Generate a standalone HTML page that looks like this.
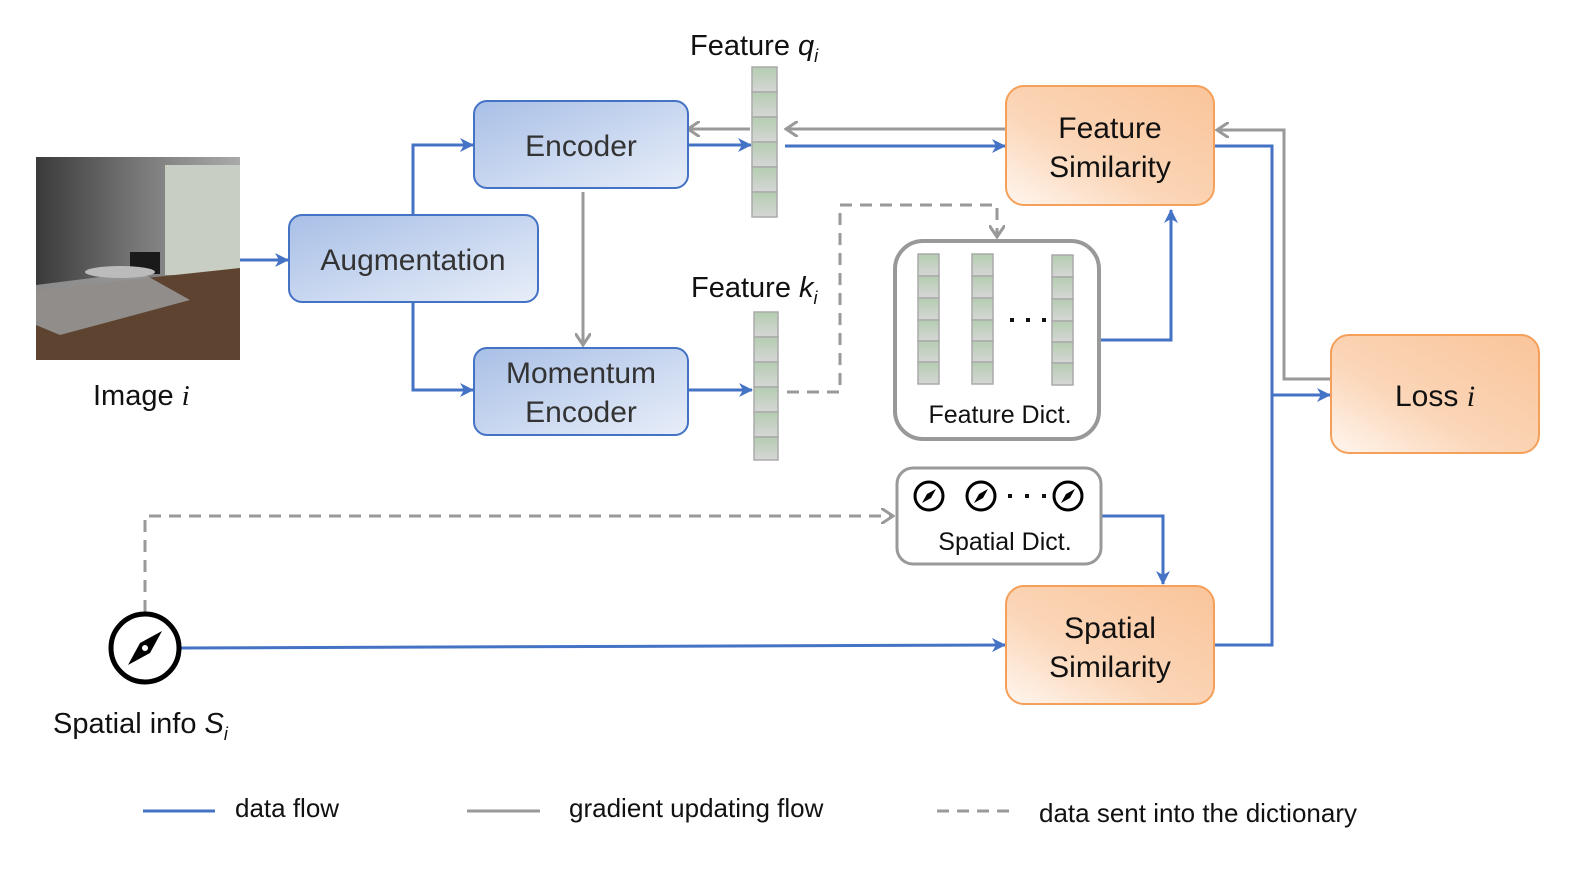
<!DOCTYPE html>
<html><head><meta charset="utf-8"><style>html,body{margin:0;background:#fff;overflow:hidden}svg{display:block}text{font-family:"Liberation Sans",sans-serif;fill:#111}</style></head><body>
<svg width="1578" height="870" viewBox="0 0 1578 870" xmlns="http://www.w3.org/2000/svg">
<defs>
<linearGradient id="bl" x1="0" y1="0" x2="1" y2="1"><stop offset="0" stop-color="#a8bfe6"/><stop offset="1" stop-color="#e8eef9"/></linearGradient>
<linearGradient id="or" x1="1" y1="0" x2="0" y2="1"><stop offset="0" stop-color="#f9c49a"/><stop offset="0.6" stop-color="#fbd6b8"/><stop offset="1" stop-color="#fff6ef"/></linearGradient>
<linearGradient id="cell" x1="0" y1="0" x2="0" y2="1"><stop offset="0" stop-color="#b4cdb0"/><stop offset="1" stop-color="#d6d6d6"/></linearGradient>
<linearGradient id="wall" x1="0" y1="0" x2="1" y2="0"><stop offset="0" stop-color="#3a3a3a"/><stop offset="0.5" stop-color="#777"/><stop offset="1" stop-color="#aaa"/></linearGradient>
<marker id="ab" markerWidth="14" markerHeight="14" refX="13" refY="7" orient="auto" markerUnits="userSpaceOnUse"><path d="M0,0 L14,7 L0,14 L4,7z" fill="#4472c4"/></marker>
<marker id="ag" markerWidth="14" markerHeight="16" refX="12" refY="8" orient="auto" markerUnits="userSpaceOnUse"><path d="M0,0 L12,8 L0,16" fill="none" stroke="#999" stroke-width="3"/></marker>
<g id="comp"><circle r="14" fill="#fff" stroke="#000" stroke-width="3"/><path d="M7,-7 L2,2 L-7,7 L-2,-2z" fill="#000"/></g>
</defs>
<!-- image -->
<rect x="36" y="157" width="204" height="203" fill="url(#wall)"/>
<rect x="165" y="165" width="75" height="110" fill="#c9cec4"/>
<polygon points="36,290 240,268 240,360 36,360" fill="#5e4430"/>
<polygon points="36,285 140,272 190,300 60,335 36,325" fill="#9a9a9a" opacity="0.85"/>
<rect x="130" y="252" width="30" height="22" fill="#1a1a1a"/>
<ellipse cx="120" cy="272" rx="35" ry="6" fill="#bbb"/>
<text x="93" y="405" font-size="29">Image <tspan font-style="italic" font-family="Liberation Serif">i</tspan></text>
<!-- connectors -->
<g fill="none" stroke="#4472c4" stroke-width="3">
<line x1="240" y1="260" x2="288" y2="260" marker-end="url(#ab)"/>
<polyline points="413,215 413,145 473,145" marker-end="url(#ab)"/>
<polyline points="413,302 413,390 473,390" marker-end="url(#ab)"/>
<line x1="688" y1="145" x2="751" y2="145" marker-end="url(#ab)"/>
<line x1="785" y1="146" x2="1005" y2="146" marker-end="url(#ab)"/>
<line x1="688" y1="390" x2="752" y2="390" marker-end="url(#ab)"/>
<polyline points="1100,340 1171,340 1171,210" marker-end="url(#ab)"/>
<polyline points="1214,146 1272,146 1272,645 1214,645"/>
<line x1="1272" y1="395" x2="1330" y2="395" marker-end="url(#ab)"/>
<polyline points="1102,516 1163,516 1163,584" marker-end="url(#ab)"/>
<line x1="180" y1="648" x2="1005" y2="645" marker-end="url(#ab)"/>
</g>
<g fill="none" stroke="#999" stroke-width="3">
<line x1="750" y1="129" x2="688" y2="129" marker-end="url(#ag)"/>
<line x1="1006" y1="129" x2="786" y2="129" marker-end="url(#ag)"/>
<line x1="583" y1="192" x2="583" y2="345" marker-end="url(#ag)"/>
<polyline points="1331,379 1284,379 1284,130 1217,130" marker-end="url(#ag)"/>
<g stroke-dasharray="12,8"><polyline points="787,392 840,392 840,205 997,205 997,237" marker-end="url(#ag)"/>
<polyline points="145,612 145,516 893,516" marker-end="url(#ag)"/></g>
</g>
<!-- boxes -->
<g stroke="#4472c4" stroke-width="2" fill="url(#bl)">
<rect x="289" y="215" width="249" height="87" rx="13"/>
<rect x="474" y="101" width="214" height="87" rx="13"/>
<rect x="474" y="348" width="214" height="87" rx="13"/>
</g>
<g font-size="30" text-anchor="middle">
<text x="413" y="270" style="fill:#333">Augmentation</text>
<text x="581" y="156" style="fill:#333">Encoder</text>
<text x="581" y="383" style="fill:#333">Momentum</text>
<text x="581" y="422" style="fill:#333">Encoder</text>
</g>
<g stroke="#f5a05a" stroke-width="2" fill="url(#or)">
<rect x="1006" y="86" width="208" height="119" rx="18"/>
<rect x="1006" y="586" width="208" height="118" rx="18"/>
<rect x="1331" y="335" width="208" height="118" rx="18"/>
</g>
<g font-size="30" text-anchor="middle">
<text x="1110" y="138">Feature</text><text x="1110" y="177">Similarity</text>
<text x="1110" y="638">Spatial</text><text x="1110" y="677">Similarity</text>
<text x="1435" y="406">Loss <tspan font-style="italic" font-family="Liberation Serif">i</tspan></text>
</g>
<!-- vectors -->
<g fill="url(#cell)" stroke="#aaa" stroke-width="1.5">
<rect x="752" y="67" width="25" height="25"/><rect x="752" y="92" width="25" height="25"/><rect x="752" y="117" width="25" height="25"/><rect x="752" y="142" width="25" height="25"/><rect x="752" y="167" width="25" height="25"/><rect x="752" y="192" width="25" height="25"/>
<rect x="754" y="312" width="24" height="25"/><rect x="754" y="337" width="24" height="25"/><rect x="754" y="362" width="24" height="25"/><rect x="754" y="387" width="24" height="25"/><rect x="754" y="412" width="24" height="25"/><rect x="754" y="437" width="24" height="23"/>
</g>
<text x="690" y="55" font-size="29">Feature <tspan font-style="italic">q</tspan><tspan font-style="italic" font-size="18" dy="7">i</tspan></text>
<text x="691" y="297" font-size="29">Feature <tspan font-style="italic">k</tspan><tspan font-style="italic" font-size="18" dy="7">i</tspan></text>
<!-- feature dict -->
<rect x="895" y="241" width="204" height="198" rx="28" fill="#fff" stroke="#999" stroke-width="4"/>
<g fill="url(#cell)" stroke="#aaa" stroke-width="1.5">
<rect x="918" y="254" width="21" height="22"/><rect x="918" y="276" width="21" height="22"/><rect x="918" y="298" width="21" height="22"/><rect x="918" y="320" width="21" height="21"/><rect x="918" y="341" width="21" height="21"/><rect x="918" y="362" width="21" height="22"/>
<rect x="972" y="254" width="21" height="22"/><rect x="972" y="276" width="21" height="22"/><rect x="972" y="298" width="21" height="22"/><rect x="972" y="320" width="21" height="21"/><rect x="972" y="341" width="21" height="21"/><rect x="972" y="362" width="21" height="22"/>
<rect x="1052" y="255" width="21" height="22"/><rect x="1052" y="277" width="21" height="22"/><rect x="1052" y="299" width="21" height="22"/><rect x="1052" y="321" width="21" height="21"/><rect x="1052" y="342" width="21" height="21"/><rect x="1052" y="363" width="21" height="22"/>
</g>
<g fill="#111"><rect x="1010" y="318" width="4" height="4"/><rect x="1026" y="318" width="4" height="4"/><rect x="1042" y="318" width="4" height="4"/></g>
<text x="1000" y="423" font-size="25" text-anchor="middle">Feature Dict.</text>
<!-- spatial dict -->
<rect x="897" y="468" width="204" height="96" rx="16" fill="#fff" stroke="#999" stroke-width="3"/>
<use href="#comp" x="929" y="496"/><use href="#comp" x="981" y="496"/><use href="#comp" x="1068" y="496"/>
<g fill="#111"><rect x="1008" y="494" width="4" height="4"/><rect x="1025" y="494" width="4" height="4"/><rect x="1042" y="494" width="4" height="4"/></g>
<text x="1005" y="550" font-size="25" text-anchor="middle">Spatial Dict.</text>
<!-- compass -->
<circle cx="145" cy="648" r="34" fill="#fff" stroke="#000" stroke-width="5"/>
<path d="M162,631 L150,653 L128,665 L140,643z" fill="#000"/>
<circle cx="145" cy="648" r="3" fill="#fff"/>
<text x="53" y="733" font-size="29">Spatial info <tspan font-style="italic">S</tspan><tspan font-style="italic" font-size="18" dy="7">i</tspan></text>
<!-- legend -->
<line x1="143" y1="811" x2="215" y2="811" stroke="#4472c4" stroke-width="3"/>
<text x="235" y="817" font-size="26">data flow</text>
<line x1="467" y1="811" x2="540" y2="811" stroke="#999" stroke-width="3"/>
<text x="569" y="817" font-size="26">gradient updating flow</text>
<line x1="937" y1="811" x2="1010" y2="811" stroke="#999" stroke-width="3" stroke-dasharray="12,8"/>
<text x="1039" y="822" font-size="26">data sent into the dictionary</text>
</svg>
</body></html>
